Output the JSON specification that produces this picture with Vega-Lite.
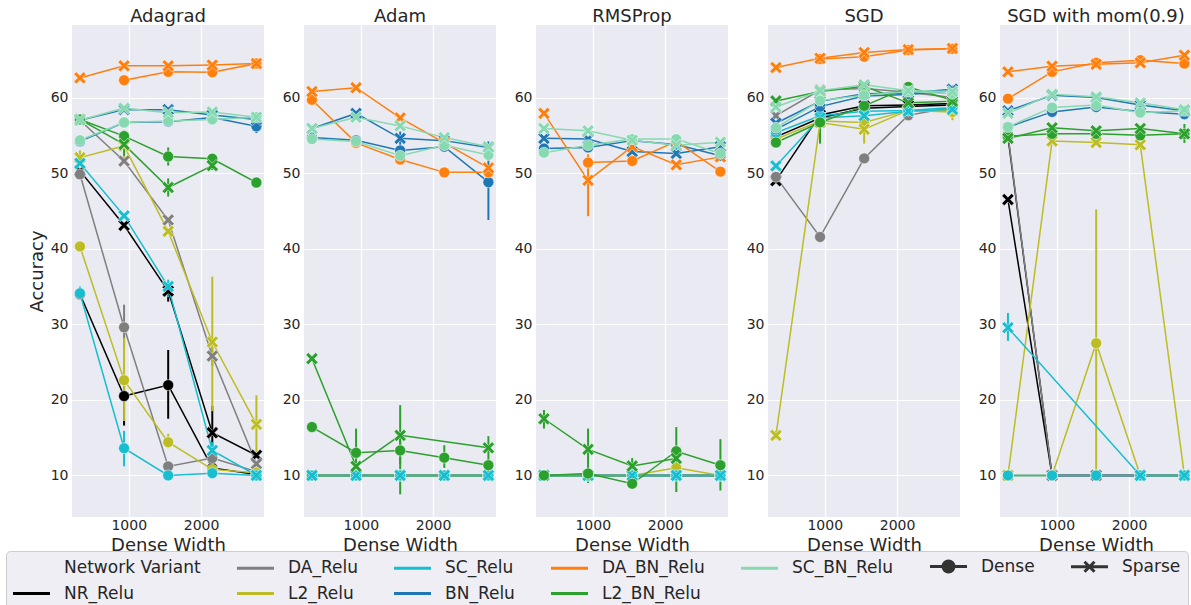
{
  "$schema": "https://vega.github.io/schema/vega-lite/v6.json",
  "background": "#ffffff",
  "padding": {"left": 5, "top": 8, "right": 0, "bottom": 0},
  "datasets": {
    "adagrad": [
      {"v":"NR_Relu","t":"Dense","w":325,"a":34.0},
      {"v":"NR_Relu","t":"Dense","w":935,"a":20.5,"lo":16.6,"hi":22.0},
      {"v":"NR_Relu","t":"Dense","w":1545,"a":21.95,"lo":17.5,"hi":26.6},
      {"v":"NR_Relu","t":"Dense","w":2155,"a":11.0},
      {"v":"NR_Relu","t":"Dense","w":2765,"a":10.1},
      {"v":"NR_Relu","t":"Sparse","w":325,"a":50.3},
      {"v":"NR_Relu","t":"Sparse","w":935,"a":43.1},
      {"v":"NR_Relu","t":"Sparse","w":1545,"a":34.4,"lo":33.0,"hi":35.5},
      {"v":"NR_Relu","t":"Sparse","w":2155,"a":15.65,"lo":12.6,"hi":19.2},
      {"v":"NR_Relu","t":"Sparse","w":2765,"a":12.65},
      {"v":"DA_Relu","t":"Dense","w":325,"a":49.85},
      {"v":"DA_Relu","t":"Dense","w":935,"a":29.6,"lo":27.0,"hi":32.6},
      {"v":"DA_Relu","t":"Dense","w":1545,"a":11.2},
      {"v":"DA_Relu","t":"Dense","w":2155,"a":12.3},
      {"v":"DA_Relu","t":"Dense","w":2765,"a":10.5},
      {"v":"DA_Relu","t":"Sparse","w":325,"a":57.0},
      {"v":"DA_Relu","t":"Sparse","w":935,"a":51.6},
      {"v":"DA_Relu","t":"Sparse","w":1545,"a":43.8},
      {"v":"DA_Relu","t":"Sparse","w":2155,"a":25.8,"lo":24.5,"hi":27.0},
      {"v":"DA_Relu","t":"Sparse","w":2765,"a":11.55},
      {"v":"L2_Relu","t":"Dense","w":325,"a":40.3},
      {"v":"L2_Relu","t":"Dense","w":935,"a":22.6,"lo":17.2,"hi":28.2},
      {"v":"L2_Relu","t":"Dense","w":1545,"a":14.4,"lo":13.6,"hi":15.5},
      {"v":"L2_Relu","t":"Dense","w":2155,"a":10.8},
      {"v":"L2_Relu","t":"Dense","w":2765,"a":10.35},
      {"v":"L2_Relu","t":"Sparse","w":325,"a":52.05,"lo":51.2,"hi":53.0},
      {"v":"L2_Relu","t":"Sparse","w":935,"a":53.6,"lo":52.0,"hi":54.5},
      {"v":"L2_Relu","t":"Sparse","w":1545,"a":42.3},
      {"v":"L2_Relu","t":"Sparse","w":2155,"a":27.65,"lo":18.5,"hi":36.3},
      {"v":"L2_Relu","t":"Sparse","w":2765,"a":16.75,"lo":12.8,"hi":20.6},
      {"v":"SC_Relu","t":"Dense","w":325,"a":34.1,"lo":33.3,"hi":35.0},
      {"v":"SC_Relu","t":"Dense","w":935,"a":13.6,"lo":11.2,"hi":15.9},
      {"v":"SC_Relu","t":"Dense","w":1545,"a":10.0},
      {"v":"SC_Relu","t":"Dense","w":2155,"a":10.3},
      {"v":"SC_Relu","t":"Dense","w":2765,"a":10.0},
      {"v":"SC_Relu","t":"Sparse","w":325,"a":51.3},
      {"v":"SC_Relu","t":"Sparse","w":935,"a":44.35},
      {"v":"SC_Relu","t":"Sparse","w":1545,"a":35.0,"lo":33.6,"hi":35.9},
      {"v":"SC_Relu","t":"Sparse","w":2155,"a":13.3,"lo":12.2,"hi":14.4},
      {"v":"SC_Relu","t":"Sparse","w":2765,"a":10.0},
      {"v":"BN_Relu","t":"Dense","w":325,"a":54.2},
      {"v":"BN_Relu","t":"Dense","w":935,"a":56.7},
      {"v":"BN_Relu","t":"Dense","w":1545,"a":56.8},
      {"v":"BN_Relu","t":"Dense","w":2155,"a":57.35},
      {"v":"BN_Relu","t":"Dense","w":2765,"a":56.2,"lo":55.3,"hi":56.9},
      {"v":"BN_Relu","t":"Sparse","w":325,"a":57.0},
      {"v":"BN_Relu","t":"Sparse","w":935,"a":58.4},
      {"v":"BN_Relu","t":"Sparse","w":1545,"a":58.4},
      {"v":"BN_Relu","t":"Sparse","w":2155,"a":57.7},
      {"v":"BN_Relu","t":"Sparse","w":2765,"a":57.1},
      {"v":"DA_BN_Relu","t":"Dense","w":935,"a":62.3},
      {"v":"DA_BN_Relu","t":"Dense","w":1545,"a":63.4},
      {"v":"DA_BN_Relu","t":"Dense","w":2155,"a":63.35},
      {"v":"DA_BN_Relu","t":"Dense","w":2765,"a":64.5},
      {"v":"DA_BN_Relu","t":"Sparse","w":325,"a":62.6},
      {"v":"DA_BN_Relu","t":"Sparse","w":935,"a":64.2},
      {"v":"DA_BN_Relu","t":"Sparse","w":1545,"a":64.2},
      {"v":"DA_BN_Relu","t":"Sparse","w":2155,"a":64.3},
      {"v":"DA_BN_Relu","t":"Sparse","w":2765,"a":64.5},
      {"v":"L2_BN_Relu","t":"Dense","w":325,"a":57.1},
      {"v":"L2_BN_Relu","t":"Dense","w":935,"a":54.9,"lo":53.9,"hi":55.6},
      {"v":"L2_BN_Relu","t":"Dense","w":1545,"a":52.2,"lo":51.0,"hi":53.4},
      {"v":"L2_BN_Relu","t":"Dense","w":2155,"a":51.9},
      {"v":"L2_BN_Relu","t":"Dense","w":2765,"a":48.75},
      {"v":"L2_BN_Relu","t":"Sparse","w":325,"a":57.1},
      {"v":"L2_BN_Relu","t":"Sparse","w":935,"a":53.8,"lo":52.3,"hi":54.4},
      {"v":"L2_BN_Relu","t":"Sparse","w":1545,"a":48.1,"lo":46.9,"hi":49.3},
      {"v":"L2_BN_Relu","t":"Sparse","w":2155,"a":51.0,"lo":50.4,"hi":51.6},
      {"v":"SC_BN_Relu","t":"Dense","w":325,"a":54.35},
      {"v":"SC_BN_Relu","t":"Dense","w":935,"a":56.7},
      {"v":"SC_BN_Relu","t":"Dense","w":1545,"a":56.9},
      {"v":"SC_BN_Relu","t":"Dense","w":2155,"a":57.1},
      {"v":"SC_BN_Relu","t":"Dense","w":2765,"a":57.4},
      {"v":"SC_BN_Relu","t":"Sparse","w":325,"a":57.0},
      {"v":"SC_BN_Relu","t":"Sparse","w":935,"a":58.6},
      {"v":"SC_BN_Relu","t":"Sparse","w":1545,"a":58.0},
      {"v":"SC_BN_Relu","t":"Sparse","w":2155,"a":58.1},
      {"v":"SC_BN_Relu","t":"Sparse","w":2765,"a":57.4}
    ],
    "adam": [
      {"v":"NR_Relu","t":"Dense","w":325,"a":10.0},
      {"v":"NR_Relu","t":"Dense","w":935,"a":10.0},
      {"v":"NR_Relu","t":"Dense","w":1545,"a":10.0},
      {"v":"NR_Relu","t":"Dense","w":2155,"a":10.0},
      {"v":"NR_Relu","t":"Dense","w":2765,"a":10.0},
      {"v":"NR_Relu","t":"Sparse","w":325,"a":10.0},
      {"v":"NR_Relu","t":"Sparse","w":935,"a":10.0},
      {"v":"NR_Relu","t":"Sparse","w":1545,"a":10.0},
      {"v":"NR_Relu","t":"Sparse","w":2155,"a":10.0},
      {"v":"NR_Relu","t":"Sparse","w":2765,"a":10.0},
      {"v":"DA_Relu","t":"Dense","w":325,"a":10.0},
      {"v":"DA_Relu","t":"Dense","w":935,"a":10.0},
      {"v":"DA_Relu","t":"Dense","w":1545,"a":10.0},
      {"v":"DA_Relu","t":"Dense","w":2155,"a":10.0},
      {"v":"DA_Relu","t":"Dense","w":2765,"a":10.0},
      {"v":"DA_Relu","t":"Sparse","w":325,"a":10.0},
      {"v":"DA_Relu","t":"Sparse","w":935,"a":10.0},
      {"v":"DA_Relu","t":"Sparse","w":1545,"a":10.0},
      {"v":"DA_Relu","t":"Sparse","w":2155,"a":10.0},
      {"v":"DA_Relu","t":"Sparse","w":2765,"a":10.0},
      {"v":"L2_Relu","t":"Dense","w":325,"a":10.0},
      {"v":"L2_Relu","t":"Dense","w":935,"a":10.0},
      {"v":"L2_Relu","t":"Dense","w":1545,"a":10.0},
      {"v":"L2_Relu","t":"Dense","w":2155,"a":10.0},
      {"v":"L2_Relu","t":"Dense","w":2765,"a":10.0},
      {"v":"L2_Relu","t":"Sparse","w":325,"a":10.0},
      {"v":"L2_Relu","t":"Sparse","w":935,"a":10.0},
      {"v":"L2_Relu","t":"Sparse","w":1545,"a":10.0},
      {"v":"L2_Relu","t":"Sparse","w":2155,"a":10.0},
      {"v":"L2_Relu","t":"Sparse","w":2765,"a":10.0},
      {"v":"SC_Relu","t":"Dense","w":325,"a":10.0},
      {"v":"SC_Relu","t":"Dense","w":935,"a":10.0},
      {"v":"SC_Relu","t":"Dense","w":1545,"a":10.0},
      {"v":"SC_Relu","t":"Dense","w":2155,"a":10.0},
      {"v":"SC_Relu","t":"Dense","w":2765,"a":10.0},
      {"v":"SC_Relu","t":"Sparse","w":325,"a":10.0},
      {"v":"SC_Relu","t":"Sparse","w":935,"a":10.0},
      {"v":"SC_Relu","t":"Sparse","w":1545,"a":10.0},
      {"v":"SC_Relu","t":"Sparse","w":2155,"a":10.0},
      {"v":"SC_Relu","t":"Sparse","w":2765,"a":10.0},
      {"v":"BN_Relu","t":"Dense","w":325,"a":54.7},
      {"v":"BN_Relu","t":"Dense","w":935,"a":54.35},
      {"v":"BN_Relu","t":"Dense","w":1545,"a":53.0},
      {"v":"BN_Relu","t":"Dense","w":2155,"a":53.5},
      {"v":"BN_Relu","t":"Dense","w":2765,"a":48.8,"lo":43.8,"hi":53.8},
      {"v":"BN_Relu","t":"Sparse","w":325,"a":55.9},
      {"v":"BN_Relu","t":"Sparse","w":935,"a":57.9},
      {"v":"BN_Relu","t":"Sparse","w":1545,"a":54.6,"lo":53.7,"hi":55.5},
      {"v":"BN_Relu","t":"Sparse","w":2155,"a":54.3},
      {"v":"BN_Relu","t":"Sparse","w":2765,"a":53.4,"lo":52.3,"hi":54.2},
      {"v":"DA_BN_Relu","t":"Dense","w":325,"a":59.7},
      {"v":"DA_BN_Relu","t":"Dense","w":935,"a":54.0},
      {"v":"DA_BN_Relu","t":"Dense","w":1545,"a":51.8},
      {"v":"DA_BN_Relu","t":"Dense","w":2155,"a":50.1},
      {"v":"DA_BN_Relu","t":"Dense","w":2765,"a":50.1},
      {"v":"DA_BN_Relu","t":"Sparse","w":325,"a":60.8},
      {"v":"DA_BN_Relu","t":"Sparse","w":935,"a":61.3},
      {"v":"DA_BN_Relu","t":"Sparse","w":1545,"a":57.3},
      {"v":"DA_BN_Relu","t":"Sparse","w":2155,"a":54.0},
      {"v":"DA_BN_Relu","t":"Sparse","w":2765,"a":50.7},
      {"v":"L2_BN_Relu","t":"Dense","w":325,"a":16.4},
      {"v":"L2_BN_Relu","t":"Dense","w":935,"a":13.0},
      {"v":"L2_BN_Relu","t":"Dense","w":1545,"a":13.3,"lo":7.5,"hi":15.0},
      {"v":"L2_BN_Relu","t":"Dense","w":2155,"a":12.35,"lo":11.0,"hi":14.0},
      {"v":"L2_BN_Relu","t":"Dense","w":2765,"a":11.35},
      {"v":"L2_BN_Relu","t":"Sparse","w":325,"a":25.45},
      {"v":"L2_BN_Relu","t":"Sparse","w":935,"a":11.2,"lo":10.8,"hi":16.2},
      {"v":"L2_BN_Relu","t":"Sparse","w":1545,"a":15.3,"lo":11.5,"hi":19.3},
      {"v":"L2_BN_Relu","t":"Sparse","w":2765,"a":13.65,"lo":12.0,"hi":15.2},
      {"v":"SC_BN_Relu","t":"Dense","w":325,"a":54.5},
      {"v":"SC_BN_Relu","t":"Dense","w":935,"a":54.2},
      {"v":"SC_BN_Relu","t":"Dense","w":1545,"a":52.3},
      {"v":"SC_BN_Relu","t":"Dense","w":2155,"a":53.7},
      {"v":"SC_BN_Relu","t":"Dense","w":2765,"a":52.4},
      {"v":"SC_BN_Relu","t":"Sparse","w":325,"a":55.9},
      {"v":"SC_BN_Relu","t":"Sparse","w":935,"a":57.4},
      {"v":"SC_BN_Relu","t":"Sparse","w":1545,"a":56.25},
      {"v":"SC_BN_Relu","t":"Sparse","w":2155,"a":54.7},
      {"v":"SC_BN_Relu","t":"Sparse","w":2765,"a":53.5}
    ],
    "rmsprop": [
      {"v":"NR_Relu","t":"Dense","w":325,"a":10.0},
      {"v":"NR_Relu","t":"Dense","w":935,"a":10.0},
      {"v":"NR_Relu","t":"Dense","w":1545,"a":10.0},
      {"v":"NR_Relu","t":"Dense","w":2155,"a":10.0},
      {"v":"NR_Relu","t":"Dense","w":2765,"a":10.0},
      {"v":"NR_Relu","t":"Sparse","w":325,"a":10.0},
      {"v":"NR_Relu","t":"Sparse","w":935,"a":10.0},
      {"v":"NR_Relu","t":"Sparse","w":1545,"a":10.0},
      {"v":"NR_Relu","t":"Sparse","w":2155,"a":10.0},
      {"v":"NR_Relu","t":"Sparse","w":2765,"a":10.0},
      {"v":"DA_Relu","t":"Dense","w":325,"a":10.0},
      {"v":"DA_Relu","t":"Dense","w":935,"a":10.0},
      {"v":"DA_Relu","t":"Dense","w":1545,"a":10.0},
      {"v":"DA_Relu","t":"Dense","w":2155,"a":10.0},
      {"v":"DA_Relu","t":"Dense","w":2765,"a":10.0},
      {"v":"DA_Relu","t":"Sparse","w":325,"a":10.0},
      {"v":"DA_Relu","t":"Sparse","w":935,"a":10.0},
      {"v":"DA_Relu","t":"Sparse","w":1545,"a":10.0},
      {"v":"DA_Relu","t":"Sparse","w":2155,"a":10.0},
      {"v":"DA_Relu","t":"Sparse","w":2765,"a":10.0},
      {"v":"L2_Relu","t":"Dense","w":325,"a":10.0},
      {"v":"L2_Relu","t":"Dense","w":935,"a":10.0},
      {"v":"L2_Relu","t":"Dense","w":1545,"a":10.0},
      {"v":"L2_Relu","t":"Dense","w":2155,"a":11.0},
      {"v":"L2_Relu","t":"Dense","w":2765,"a":10.0},
      {"v":"L2_Relu","t":"Sparse","w":325,"a":10.0},
      {"v":"L2_Relu","t":"Sparse","w":935,"a":10.0},
      {"v":"L2_Relu","t":"Sparse","w":1545,"a":10.0},
      {"v":"L2_Relu","t":"Sparse","w":2155,"a":10.0},
      {"v":"L2_Relu","t":"Sparse","w":2765,"a":10.0},
      {"v":"SC_Relu","t":"Dense","w":325,"a":10.0},
      {"v":"SC_Relu","t":"Dense","w":935,"a":10.0},
      {"v":"SC_Relu","t":"Dense","w":1545,"a":10.0},
      {"v":"SC_Relu","t":"Dense","w":2155,"a":10.0},
      {"v":"SC_Relu","t":"Dense","w":2765,"a":10.0},
      {"v":"SC_Relu","t":"Sparse","w":325,"a":10.0},
      {"v":"SC_Relu","t":"Sparse","w":935,"a":10.0},
      {"v":"SC_Relu","t":"Sparse","w":1545,"a":10.0},
      {"v":"SC_Relu","t":"Sparse","w":2155,"a":10.0},
      {"v":"SC_Relu","t":"Sparse","w":2765,"a":10.0},
      {"v":"BN_Relu","t":"Dense","w":325,"a":53.25},
      {"v":"BN_Relu","t":"Dense","w":935,"a":53.4},
      {"v":"BN_Relu","t":"Dense","w":1545,"a":54.3},
      {"v":"BN_Relu","t":"Dense","w":2155,"a":53.8},
      {"v":"BN_Relu","t":"Dense","w":2765,"a":52.3},
      {"v":"BN_Relu","t":"Sparse","w":325,"a":54.6},
      {"v":"BN_Relu","t":"Sparse","w":935,"a":54.5},
      {"v":"BN_Relu","t":"Sparse","w":1545,"a":52.85},
      {"v":"BN_Relu","t":"Sparse","w":2155,"a":52.6},
      {"v":"BN_Relu","t":"Sparse","w":2765,"a":53.5},
      {"v":"DA_BN_Relu","t":"Dense","w":935,"a":51.4},
      {"v":"DA_BN_Relu","t":"Dense","w":1545,"a":51.6},
      {"v":"DA_BN_Relu","t":"Dense","w":2155,"a":54.2},
      {"v":"DA_BN_Relu","t":"Dense","w":2765,"a":50.2},
      {"v":"DA_BN_Relu","t":"Sparse","w":325,"a":57.9},
      {"v":"DA_BN_Relu","t":"Sparse","w":935,"a":49.05,"lo":44.3,"hi":52.5},
      {"v":"DA_BN_Relu","t":"Sparse","w":1545,"a":53.5},
      {"v":"DA_BN_Relu","t":"Sparse","w":2155,"a":51.1},
      {"v":"DA_BN_Relu","t":"Sparse","w":2765,"a":52.15},
      {"v":"L2_BN_Relu","t":"Dense","w":325,"a":10.0},
      {"v":"L2_BN_Relu","t":"Dense","w":935,"a":10.25,"lo":9.1,"hi":10.8},
      {"v":"L2_BN_Relu","t":"Dense","w":1545,"a":8.9},
      {"v":"L2_BN_Relu","t":"Dense","w":2155,"a":13.2,"lo":7.8,"hi":16.4},
      {"v":"L2_BN_Relu","t":"Dense","w":2765,"a":11.35,"lo":8.0,"hi":14.8},
      {"v":"L2_BN_Relu","t":"Sparse","w":325,"a":17.5,"lo":16.2,"hi":18.65},
      {"v":"L2_BN_Relu","t":"Sparse","w":935,"a":13.45,"lo":9.0,"hi":16.2},
      {"v":"L2_BN_Relu","t":"Sparse","w":1545,"a":11.25,"lo":10.5,"hi":12.3},
      {"v":"L2_BN_Relu","t":"Sparse","w":2155,"a":12.25},
      {"v":"SC_BN_Relu","t":"Dense","w":325,"a":52.7},
      {"v":"SC_BN_Relu","t":"Dense","w":935,"a":53.7},
      {"v":"SC_BN_Relu","t":"Dense","w":1545,"a":54.5},
      {"v":"SC_BN_Relu","t":"Dense","w":2155,"a":54.5},
      {"v":"SC_BN_Relu","t":"Dense","w":2765,"a":52.6},
      {"v":"SC_BN_Relu","t":"Sparse","w":325,"a":55.9},
      {"v":"SC_BN_Relu","t":"Sparse","w":935,"a":55.6},
      {"v":"SC_BN_Relu","t":"Sparse","w":1545,"a":54.35},
      {"v":"SC_BN_Relu","t":"Sparse","w":2155,"a":53.7},
      {"v":"SC_BN_Relu","t":"Sparse","w":2765,"a":54.1}
    ],
    "sgd": [
      {"v":"NR_Relu","t":"Dense","w":325,"a":54.8},
      {"v":"NR_Relu","t":"Dense","w":935,"a":57.3},
      {"v":"NR_Relu","t":"Dense","w":1545,"a":58.6},
      {"v":"NR_Relu","t":"Dense","w":2155,"a":58.8},
      {"v":"NR_Relu","t":"Dense","w":2765,"a":59.0},
      {"v":"NR_Relu","t":"Sparse","w":325,"a":49.0},
      {"v":"NR_Relu","t":"Sparse","w":935,"a":57.7},
      {"v":"NR_Relu","t":"Sparse","w":1545,"a":58.9},
      {"v":"NR_Relu","t":"Sparse","w":2155,"a":59.0},
      {"v":"NR_Relu","t":"Sparse","w":2765,"a":59.2},
      {"v":"DA_Relu","t":"Dense","w":325,"a":49.5},
      {"v":"DA_Relu","t":"Dense","w":935,"a":41.55},
      {"v":"DA_Relu","t":"Dense","w":1545,"a":51.95},
      {"v":"DA_Relu","t":"Dense","w":2155,"a":57.65},
      {"v":"DA_Relu","t":"Dense","w":2765,"a":58.7},
      {"v":"DA_Relu","t":"Sparse","w":325,"a":57.6},
      {"v":"DA_Relu","t":"Sparse","w":935,"a":61.0},
      {"v":"DA_Relu","t":"Sparse","w":1545,"a":61.2},
      {"v":"DA_Relu","t":"Sparse","w":2155,"a":60.7},
      {"v":"DA_Relu","t":"Sparse","w":2765,"a":60.0},
      {"v":"L2_Relu","t":"Dense","w":325,"a":54.5},
      {"v":"L2_Relu","t":"Dense","w":935,"a":56.9},
      {"v":"L2_Relu","t":"Dense","w":1545,"a":56.7},
      {"v":"L2_Relu","t":"Dense","w":2155,"a":58.3},
      {"v":"L2_Relu","t":"Dense","w":2765,"a":58.1},
      {"v":"L2_Relu","t":"Sparse","w":325,"a":15.3,"lo":14.8,"hi":15.9},
      {"v":"L2_Relu","t":"Sparse","w":935,"a":56.7,"lo":54.0,"hi":57.3},
      {"v":"L2_Relu","t":"Sparse","w":1545,"a":55.8,"lo":53.9,"hi":57.0},
      {"v":"L2_Relu","t":"Sparse","w":2155,"a":58.3},
      {"v":"L2_Relu","t":"Sparse","w":2765,"a":58.3,"lo":57.0,"hi":59.0},
      {"v":"SC_Relu","t":"Dense","w":325,"a":55.35},
      {"v":"SC_Relu","t":"Dense","w":935,"a":57.6},
      {"v":"SC_Relu","t":"Dense","w":1545,"a":58.2},
      {"v":"SC_Relu","t":"Dense","w":2155,"a":58.3},
      {"v":"SC_Relu","t":"Dense","w":2765,"a":58.7},
      {"v":"SC_Relu","t":"Sparse","w":325,"a":50.95},
      {"v":"SC_Relu","t":"Sparse","w":935,"a":57.3},
      {"v":"SC_Relu","t":"Sparse","w":1545,"a":57.6},
      {"v":"SC_Relu","t":"Sparse","w":2155,"a":58.2},
      {"v":"SC_Relu","t":"Sparse","w":2765,"a":58.45},
      {"v":"BN_Relu","t":"Dense","w":325,"a":55.8},
      {"v":"BN_Relu","t":"Dense","w":935,"a":58.8},
      {"v":"BN_Relu","t":"Dense","w":1545,"a":60.2},
      {"v":"BN_Relu","t":"Dense","w":2155,"a":60.4},
      {"v":"BN_Relu","t":"Dense","w":2765,"a":60.9},
      {"v":"BN_Relu","t":"Sparse","w":325,"a":56.6},
      {"v":"BN_Relu","t":"Sparse","w":935,"a":59.5},
      {"v":"BN_Relu","t":"Sparse","w":1545,"a":60.5},
      {"v":"BN_Relu","t":"Sparse","w":2155,"a":60.6},
      {"v":"BN_Relu","t":"Sparse","w":2765,"a":61.1},
      {"v":"DA_BN_Relu","t":"Dense","w":935,"a":65.1},
      {"v":"DA_BN_Relu","t":"Dense","w":1545,"a":65.4},
      {"v":"DA_BN_Relu","t":"Dense","w":2155,"a":66.3},
      {"v":"DA_BN_Relu","t":"Dense","w":2765,"a":66.45},
      {"v":"DA_BN_Relu","t":"Sparse","w":325,"a":63.97},
      {"v":"DA_BN_Relu","t":"Sparse","w":935,"a":65.2},
      {"v":"DA_BN_Relu","t":"Sparse","w":1545,"a":65.96},
      {"v":"DA_BN_Relu","t":"Sparse","w":2155,"a":66.35},
      {"v":"DA_BN_Relu","t":"Sparse","w":2765,"a":66.5},
      {"v":"L2_BN_Relu","t":"Dense","w":325,"a":54.05},
      {"v":"L2_BN_Relu","t":"Dense","w":935,"a":56.7,"lo":53.9,"hi":57.4},
      {"v":"L2_BN_Relu","t":"Dense","w":1545,"a":58.9},
      {"v":"L2_BN_Relu","t":"Dense","w":2155,"a":61.4},
      {"v":"L2_BN_Relu","t":"Dense","w":2765,"a":59.65},
      {"v":"L2_BN_Relu","t":"Sparse","w":325,"a":59.55},
      {"v":"L2_BN_Relu","t":"Sparse","w":935,"a":60.8},
      {"v":"L2_BN_Relu","t":"Sparse","w":1545,"a":61.5},
      {"v":"L2_BN_Relu","t":"Sparse","w":2155,"a":59.3},
      {"v":"L2_BN_Relu","t":"Sparse","w":2765,"a":59.5},
      {"v":"SC_BN_Relu","t":"Dense","w":325,"a":56.0},
      {"v":"SC_BN_Relu","t":"Dense","w":935,"a":59.6},
      {"v":"SC_BN_Relu","t":"Dense","w":1545,"a":60.3},
      {"v":"SC_BN_Relu","t":"Dense","w":2155,"a":60.8},
      {"v":"SC_BN_Relu","t":"Dense","w":2765,"a":60.5},
      {"v":"SC_BN_Relu","t":"Sparse","w":325,"a":58.75},
      {"v":"SC_BN_Relu","t":"Sparse","w":935,"a":60.9},
      {"v":"SC_BN_Relu","t":"Sparse","w":1545,"a":61.7},
      {"v":"SC_BN_Relu","t":"Sparse","w":2155,"a":60.9},
      {"v":"SC_BN_Relu","t":"Sparse","w":2765,"a":60.8}
    ],
    "sgdmom": [
      {"v":"NR_Relu","t":"Dense","w":325,"a":54.8},
      {"v":"NR_Relu","t":"Dense","w":935,"a":10.0},
      {"v":"NR_Relu","t":"Dense","w":1545,"a":10.0},
      {"v":"NR_Relu","t":"Dense","w":2155,"a":10.0},
      {"v":"NR_Relu","t":"Dense","w":2765,"a":10.0},
      {"v":"NR_Relu","t":"Sparse","w":325,"a":46.5},
      {"v":"NR_Relu","t":"Sparse","w":935,"a":10.0},
      {"v":"NR_Relu","t":"Sparse","w":1545,"a":10.0},
      {"v":"NR_Relu","t":"Sparse","w":2155,"a":10.0},
      {"v":"NR_Relu","t":"Sparse","w":2765,"a":10.0},
      {"v":"DA_Relu","t":"Dense","w":325,"a":55.1},
      {"v":"DA_Relu","t":"Dense","w":935,"a":10.0},
      {"v":"DA_Relu","t":"Dense","w":1545,"a":10.0},
      {"v":"DA_Relu","t":"Dense","w":2155,"a":10.0},
      {"v":"DA_Relu","t":"Dense","w":2765,"a":10.0},
      {"v":"DA_Relu","t":"Sparse","w":325,"a":10.0},
      {"v":"DA_Relu","t":"Sparse","w":935,"a":10.0},
      {"v":"DA_Relu","t":"Sparse","w":1545,"a":10.0},
      {"v":"DA_Relu","t":"Sparse","w":2155,"a":10.0},
      {"v":"DA_Relu","t":"Sparse","w":2765,"a":10.0},
      {"v":"L2_Relu","t":"Dense","w":325,"a":10.0},
      {"v":"L2_Relu","t":"Dense","w":935,"a":10.0},
      {"v":"L2_Relu","t":"Dense","w":1545,"a":27.5,"lo":10.0,"hi":45.2},
      {"v":"L2_Relu","t":"Dense","w":2155,"a":10.0},
      {"v":"L2_Relu","t":"Dense","w":2765,"a":10.0},
      {"v":"L2_Relu","t":"Sparse","w":325,"a":10.0},
      {"v":"L2_Relu","t":"Sparse","w":935,"a":54.25},
      {"v":"L2_Relu","t":"Sparse","w":1545,"a":54.05},
      {"v":"L2_Relu","t":"Sparse","w":2155,"a":53.75},
      {"v":"L2_Relu","t":"Sparse","w":2765,"a":10.0},
      {"v":"SC_Relu","t":"Dense","w":325,"a":10.0},
      {"v":"SC_Relu","t":"Dense","w":935,"a":10.0},
      {"v":"SC_Relu","t":"Dense","w":1545,"a":10.0},
      {"v":"SC_Relu","t":"Dense","w":2155,"a":10.0},
      {"v":"SC_Relu","t":"Dense","w":2765,"a":10.0},
      {"v":"SC_Relu","t":"Sparse","w":325,"a":29.55,"lo":27.8,"hi":31.5},
      {"v":"SC_Relu","t":"Sparse","w":2155,"a":10.0},
      {"v":"SC_Relu","t":"Sparse","w":2765,"a":10.0},
      {"v":"BN_Relu","t":"Dense","w":325,"a":56.1},
      {"v":"BN_Relu","t":"Dense","w":935,"a":58.1},
      {"v":"BN_Relu","t":"Dense","w":1545,"a":58.75},
      {"v":"BN_Relu","t":"Dense","w":2155,"a":58.15},
      {"v":"BN_Relu","t":"Dense","w":2765,"a":57.8},
      {"v":"BN_Relu","t":"Sparse","w":325,"a":58.25},
      {"v":"BN_Relu","t":"Sparse","w":935,"a":60.3},
      {"v":"BN_Relu","t":"Sparse","w":1545,"a":60.0},
      {"v":"BN_Relu","t":"Sparse","w":2155,"a":59.0},
      {"v":"BN_Relu","t":"Sparse","w":2765,"a":58.25},
      {"v":"DA_BN_Relu","t":"Dense","w":325,"a":59.85},
      {"v":"DA_BN_Relu","t":"Dense","w":935,"a":63.4},
      {"v":"DA_BN_Relu","t":"Dense","w":1545,"a":64.6},
      {"v":"DA_BN_Relu","t":"Dense","w":2155,"a":64.95},
      {"v":"DA_BN_Relu","t":"Dense","w":2765,"a":64.5},
      {"v":"DA_BN_Relu","t":"Sparse","w":325,"a":63.4},
      {"v":"DA_BN_Relu","t":"Sparse","w":935,"a":64.15},
      {"v":"DA_BN_Relu","t":"Sparse","w":1545,"a":64.4},
      {"v":"DA_BN_Relu","t":"Sparse","w":2155,"a":64.6},
      {"v":"DA_BN_Relu","t":"Sparse","w":2765,"a":65.6},
      {"v":"L2_BN_Relu","t":"Dense","w":325,"a":54.9},
      {"v":"L2_BN_Relu","t":"Dense","w":935,"a":55.2},
      {"v":"L2_BN_Relu","t":"Dense","w":1545,"a":55.2},
      {"v":"L2_BN_Relu","t":"Dense","w":2155,"a":55.0},
      {"v":"L2_BN_Relu","t":"Dense","w":2765,"a":55.2},
      {"v":"L2_BN_Relu","t":"Sparse","w":325,"a":54.6},
      {"v":"L2_BN_Relu","t":"Sparse","w":935,"a":56.0},
      {"v":"L2_BN_Relu","t":"Sparse","w":1545,"a":55.6},
      {"v":"L2_BN_Relu","t":"Sparse","w":2155,"a":55.9},
      {"v":"L2_BN_Relu","t":"Sparse","w":2765,"a":55.2,"lo":54.0,"hi":56.5},
      {"v":"SC_BN_Relu","t":"Dense","w":325,"a":56.1},
      {"v":"SC_BN_Relu","t":"Dense","w":935,"a":58.7},
      {"v":"SC_BN_Relu","t":"Dense","w":1545,"a":59.0},
      {"v":"SC_BN_Relu","t":"Dense","w":2155,"a":58.0},
      {"v":"SC_BN_Relu","t":"Dense","w":2765,"a":58.25},
      {"v":"SC_BN_Relu","t":"Sparse","w":325,"a":57.9},
      {"v":"SC_BN_Relu","t":"Sparse","w":935,"a":60.45},
      {"v":"SC_BN_Relu","t":"Sparse","w":1545,"a":60.1},
      {"v":"SC_BN_Relu","t":"Sparse","w":2155,"a":59.3},
      {"v":"SC_BN_Relu","t":"Sparse","w":2765,"a":58.4}
    ]
  },
  "spacing": 18,
  "hconcat": [
    {
      "width": 192, "height": 492,
      "title": "Adagrad",
      "data": {"name": "adagrad"},
      "encoding": {
        "x": {"field": "w", "type": "quantitative", "scale": {"domain": [215, 2870], "nice": false, "zero": false}, "axis": {"title": "Dense Width", "values": [1000, 2000], "format": "d"}},
        "y": {"field": "a", "type": "quantitative", "scale": {"domain": [4.5, 69.6], "nice": false, "zero": false}, "axis": {"title": "Accuracy", "values": [10, 20, 30, 40, 50, 60]}},
        "color": {
          "field": "v", "type": "nominal",
          "scale": {
            "domain": ["Network Variant", "DA_Relu", "SC_Relu", "DA_BN_Relu", "SC_BN_Relu", "Dense", "Sparse", "NR_Relu", "L2_Relu", "BN_Relu", "L2_BN_Relu"],
            "range": ["#ffffff", "#7f7f7f", "#17becf", "#ff7f0e", "#86d9b1", "#333333", "#333333", "#000000", "#bcbd22", "#1f77b4", "#2ca02c"]
          },
          "legend": {
            "title": null, "orient": "none", "legendX": -66, "legendY": 526,
            "direction": "horizontal", "columns": 7, "columnPadding": 30, "rowPadding": 6,
            "symbolSize": 100, "symbolStrokeWidth": 3,
            "labelFontSize": 17, "labelFont": "DejaVu Sans", "labelColor": "#262626", "labelLimit": 300,
            "padding": 7, "fillColor": "#eeeef4", "strokeColor": "#cccccc", "cornerRadius": 4,
            "encode": {
              "symbols": {"update": {
                "shape": {"signal": "datum.value === 'Dense' ? 'M-3.7,0H3.7M-1.1,0A1.1,1.1 0 1,0 1.1,0A1.1,1.1 0 1,0 -1.1,0Z' : datum.value === 'Sparse' ? 'M-3.7,0H3.7M-1,-1L1,1M-1,1L1,-1' : 'M-3.7,0H3.7'"},
                "size": {"value": 100},
                "x": {"value": 18.5},
                "stroke": {"signal": "datum.value === 'Dense' || datum.value === 'Sparse' ? '#333333' : scale('color', datum.value)"},
                "fill": {"signal": "datum.value === 'Dense' ? '#333333' : 'transparent'"},
                "strokeWidth": {"value": 3},
                "opacity": {"signal": "datum.value === 'Network Variant' ? 0 : 1"}
              }},
              "labels": {"update": {"x": {"value": 51}}}
            }
          }
        }
      },
      "layer": [
        {"transform": [{"filter": "isValid(datum.lo)"}], "mark": {"type": "rule", "strokeWidth": 2}, "encoding": {"y": {"field": "lo", "type": "quantitative"}, "y2": {"field": "hi"}}},
        {"mark": {"type": "line", "strokeWidth": 1.5}, "encoding": {"detail": {"field": "t", "type": "nominal"}}},
        {"mark": {"type": "point", "filled": true, "opacity": 1, "strokeWidth": 0.5},
         "encoding": {
           "shape": {"field": "t", "type": "nominal", "scale": {"domain": ["Dense", "Sparse"], "range": ["circle", "M-0.6,-1L0,-0.4L0.6,-1L1,-0.6L0.4,0L1,0.6L0.6,1L0,0.4L-0.6,1L-1,0.6L-0.4,0L-1,-0.6Z"]}, "legend": null},
           "size": {"field": "t", "type": "nominal", "scale": {"domain": ["Dense", "Sparse"], "range": [120, 150]}, "legend": null},
           "stroke": {"value": "#ffffff"}
         }}
      ]
    },
    {
      "width": 192, "height": 492,
      "title": "Adam",
      "data": {"name": "adam"},
      "encoding": {
        "x": {"field": "w", "type": "quantitative", "scale": {"domain": [215, 2870], "nice": false, "zero": false}, "axis": {"title": "Dense Width", "values": [1000, 2000], "format": "d"}},
        "y": {"field": "a", "type": "quantitative", "scale": {"domain": [4.5, 69.6], "nice": false, "zero": false}, "axis": {"title": null, "values": [10, 20, 30, 40, 50, 60]}},
        "color": {
          "field": "v", "type": "nominal",
          "scale": {
            "domain": ["Network Variant", "DA_Relu", "SC_Relu", "DA_BN_Relu", "SC_BN_Relu", "Dense", "Sparse", "NR_Relu", "L2_Relu", "BN_Relu", "L2_BN_Relu"],
            "range": ["#ffffff", "#7f7f7f", "#17becf", "#ff7f0e", "#86d9b1", "#333333", "#333333", "#000000", "#bcbd22", "#1f77b4", "#2ca02c"]
          },
          "legend": null
        }
      },
      "layer": [
        {"transform": [{"filter": "isValid(datum.lo)"}], "mark": {"type": "rule", "strokeWidth": 2}, "encoding": {"y": {"field": "lo", "type": "quantitative"}, "y2": {"field": "hi"}}},
        {"mark": {"type": "line", "strokeWidth": 1.5}, "encoding": {"detail": {"field": "t", "type": "nominal"}}},
        {"mark": {"type": "point", "filled": true, "opacity": 1, "strokeWidth": 0.5},
         "encoding": {
           "shape": {"field": "t", "type": "nominal", "scale": {"domain": ["Dense", "Sparse"], "range": ["circle", "M-0.6,-1L0,-0.4L0.6,-1L1,-0.6L0.4,0L1,0.6L0.6,1L0,0.4L-0.6,1L-1,0.6L-0.4,0L-1,-0.6Z"]}, "legend": null},
           "size": {"field": "t", "type": "nominal", "scale": {"domain": ["Dense", "Sparse"], "range": [120, 150]}, "legend": null},
           "stroke": {"value": "#ffffff"}
         }}
      ]
    },
    {
      "width": 192, "height": 492,
      "title": "RMSProp",
      "data": {"name": "rmsprop"},
      "encoding": {
        "x": {"field": "w", "type": "quantitative", "scale": {"domain": [215, 2870], "nice": false, "zero": false}, "axis": {"title": "Dense Width", "values": [1000, 2000], "format": "d"}},
        "y": {"field": "a", "type": "quantitative", "scale": {"domain": [4.5, 69.6], "nice": false, "zero": false}, "axis": {"title": null, "values": [10, 20, 30, 40, 50, 60]}},
        "color": {
          "field": "v", "type": "nominal",
          "scale": {
            "domain": ["Network Variant", "DA_Relu", "SC_Relu", "DA_BN_Relu", "SC_BN_Relu", "Dense", "Sparse", "NR_Relu", "L2_Relu", "BN_Relu", "L2_BN_Relu"],
            "range": ["#ffffff", "#7f7f7f", "#17becf", "#ff7f0e", "#86d9b1", "#333333", "#333333", "#000000", "#bcbd22", "#1f77b4", "#2ca02c"]
          },
          "legend": null
        }
      },
      "layer": [
        {"transform": [{"filter": "isValid(datum.lo)"}], "mark": {"type": "rule", "strokeWidth": 2}, "encoding": {"y": {"field": "lo", "type": "quantitative"}, "y2": {"field": "hi"}}},
        {"mark": {"type": "line", "strokeWidth": 1.5}, "encoding": {"detail": {"field": "t", "type": "nominal"}}},
        {"mark": {"type": "point", "filled": true, "opacity": 1, "strokeWidth": 0.5},
         "encoding": {
           "shape": {"field": "t", "type": "nominal", "scale": {"domain": ["Dense", "Sparse"], "range": ["circle", "M-0.6,-1L0,-0.4L0.6,-1L1,-0.6L0.4,0L1,0.6L0.6,1L0,0.4L-0.6,1L-1,0.6L-0.4,0L-1,-0.6Z"]}, "legend": null},
           "size": {"field": "t", "type": "nominal", "scale": {"domain": ["Dense", "Sparse"], "range": [120, 150]}, "legend": null},
           "stroke": {"value": "#ffffff"}
         }}
      ]
    },
    {
      "width": 192, "height": 492,
      "title": "SGD",
      "data": {"name": "sgd"},
      "encoding": {
        "x": {"field": "w", "type": "quantitative", "scale": {"domain": [215, 2870], "nice": false, "zero": false}, "axis": {"title": "Dense Width", "values": [1000, 2000], "format": "d"}},
        "y": {"field": "a", "type": "quantitative", "scale": {"domain": [4.5, 69.6], "nice": false, "zero": false}, "axis": {"title": null, "values": [10, 20, 30, 40, 50, 60]}},
        "color": {
          "field": "v", "type": "nominal",
          "scale": {
            "domain": ["Network Variant", "DA_Relu", "SC_Relu", "DA_BN_Relu", "SC_BN_Relu", "Dense", "Sparse", "NR_Relu", "L2_Relu", "BN_Relu", "L2_BN_Relu"],
            "range": ["#ffffff", "#7f7f7f", "#17becf", "#ff7f0e", "#86d9b1", "#333333", "#333333", "#000000", "#bcbd22", "#1f77b4", "#2ca02c"]
          },
          "legend": null
        }
      },
      "layer": [
        {"transform": [{"filter": "isValid(datum.lo)"}], "mark": {"type": "rule", "strokeWidth": 2}, "encoding": {"y": {"field": "lo", "type": "quantitative"}, "y2": {"field": "hi"}}},
        {"mark": {"type": "line", "strokeWidth": 1.5}, "encoding": {"detail": {"field": "t", "type": "nominal"}}},
        {"mark": {"type": "point", "filled": true, "opacity": 1, "strokeWidth": 0.5},
         "encoding": {
           "shape": {"field": "t", "type": "nominal", "scale": {"domain": ["Dense", "Sparse"], "range": ["circle", "M-0.6,-1L0,-0.4L0.6,-1L1,-0.6L0.4,0L1,0.6L0.6,1L0,0.4L-0.6,1L-1,0.6L-0.4,0L-1,-0.6Z"]}, "legend": null},
           "size": {"field": "t", "type": "nominal", "scale": {"domain": ["Dense", "Sparse"], "range": [120, 150]}, "legend": null},
           "stroke": {"value": "#ffffff"}
         }}
      ]
    },
    {
      "width": 192, "height": 492,
      "title": "SGD with mom(0.9)",
      "data": {"name": "sgdmom"},
      "encoding": {
        "x": {"field": "w", "type": "quantitative", "scale": {"domain": [215, 2870], "nice": false, "zero": false}, "axis": {"title": "Dense Width", "values": [1000, 2000], "format": "d"}},
        "y": {"field": "a", "type": "quantitative", "scale": {"domain": [4.5, 69.6], "nice": false, "zero": false}, "axis": {"title": null, "values": [10, 20, 30, 40, 50, 60]}},
        "color": {
          "field": "v", "type": "nominal",
          "scale": {
            "domain": ["Network Variant", "DA_Relu", "SC_Relu", "DA_BN_Relu", "SC_BN_Relu", "Dense", "Sparse", "NR_Relu", "L2_Relu", "BN_Relu", "L2_BN_Relu"],
            "range": ["#ffffff", "#7f7f7f", "#17becf", "#ff7f0e", "#86d9b1", "#333333", "#333333", "#000000", "#bcbd22", "#1f77b4", "#2ca02c"]
          },
          "legend": null
        }
      },
      "layer": [
        {"transform": [{"filter": "isValid(datum.lo)"}], "mark": {"type": "rule", "strokeWidth": 2}, "encoding": {"y": {"field": "lo", "type": "quantitative"}, "y2": {"field": "hi"}}},
        {"mark": {"type": "line", "strokeWidth": 1.5}, "encoding": {"detail": {"field": "t", "type": "nominal"}}},
        {"mark": {"type": "point", "filled": true, "opacity": 1, "strokeWidth": 0.5},
         "encoding": {
           "shape": {"field": "t", "type": "nominal", "scale": {"domain": ["Dense", "Sparse"], "range": ["circle", "M-0.6,-1L0,-0.4L0.6,-1L1,-0.6L0.4,0L1,0.6L0.6,1L0,0.4L-0.6,1L-1,0.6L-0.4,0L-1,-0.6Z"]}, "legend": null},
           "size": {"field": "t", "type": "nominal", "scale": {"domain": ["Dense", "Sparse"], "range": [120, 150]}, "legend": null},
           "stroke": {"value": "#ffffff"}
         }}
      ]
    }
  ],
  "config": {
    "font": "DejaVu Sans",
    "view": {"fill": "#eaeaf2", "stroke": null},
    "axis": {
      "domain": false, "ticks": false, "tickSize": 0, "grid": true,
      "gridColor": "#ffffff", "gridWidth": 1.2,
      "labelFont": "DejaVu Sans", "labelFontSize": 14, "labelColor": "#262626", "labelPadding": 1,
      "titleFont": "DejaVu Sans", "titleFontSize": 18, "titleFontWeight": "normal", "titleColor": "#262626"
    },
    "axisX": {"titlePadding": 4},
    "axisY": {"titlePadding": 4, "labelPadding": 4},
    "title": {"font": "DejaVu Sans", "fontSize": 18, "fontWeight": "normal", "color": "#262626", "offset": -1}
  }
}
